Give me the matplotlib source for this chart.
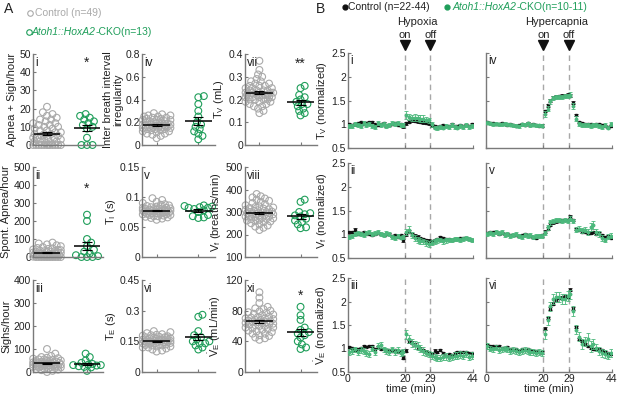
import numpy as np
import matplotlib
matplotlib.use('Agg')
import matplotlib.pyplot as plt
from matplotlib.lines import Line2D
import matplotlib.transforms as mtransforms

plt.rcParams['font.family'] = ['Liberation Sans', 'DejaVu Sans']
plt.rcParams['mathtext.fontset'] = 'custom'
plt.rcParams['mathtext.rm'] = 'Liberation Sans'
plt.rcParams['mathtext.it'] = 'Liberation Sans:italic'
plt.rcParams['mathtext.bf'] = 'Liberation Sans:bold'

# ---------------- data: panel A (individual animals) ----------------
i_ctl = [0,0,0,0,0,0,0,0,0,0,0,0,1,1,2,2,2,3,3,3,4,4,4,5,5,5,6,6,6,7,7,8,8,9,9,10,10,11,11,12,12,13,14,14,15,16,17,18,21]
i_cko = [0,0,0,4,9,10,11,12,13,14,15,16,17]
ii_ctl = [0,0,0,0,0,0,0,0,0,0,2,3,4,5,5,6,8,8,10,10,12,12,14,15,16,18,20,20,22,24,25,28,30,30,32,35,35,38,40,42,45,48,50,55,60,65,70,75,80]
ii_cko = [0,0,0,5,10,20,30,40,60,80,100,200,235]
iii_ctl = [0,5,8,10,12,15,15,18,20,20,22,22,25,25,25,28,28,30,30,30,32,32,33,35,35,35,38,38,40,40,40,42,42,45,45,48,48,50,50,52,55,55,58,60,62,65,70,80,100]
iii_cko = [5,20,22,25,28,30,30,32,35,40,50,65,80]
iv_ctl = [0.06,0.08,0.09,0.1,0.1,0.11,0.12,0.12,0.13,0.13,0.14,0.14,0.14,0.15,0.15,0.15,0.16,0.16,0.16,0.16,0.17,0.17,0.17,0.17,0.18,0.18,0.18,0.18,0.19,0.19,0.19,0.2,0.2,0.2,0.21,0.21,0.22,0.22,0.22,0.23,0.23,0.24,0.24,0.25,0.25,0.26,0.26,0.27,0.28]
iv_cko = [0.05,0.08,0.1,0.12,0.14,0.16,0.18,0.2,0.25,0.3,0.36,0.42,0.43]
v_ctl = [0.062,0.064,0.065,0.066,0.067,0.068,0.068,0.069,0.07,0.07,0.071,0.071,0.072,0.072,0.073,0.073,0.074,0.074,0.075,0.075,0.075,0.076,0.076,0.076,0.077,0.077,0.077,0.078,0.078,0.078,0.079,0.079,0.08,0.08,0.08,0.081,0.081,0.082,0.082,0.083,0.084,0.085,0.086,0.087,0.088,0.09,0.092,0.095,0.098]
v_cko = [0.065,0.066,0.068,0.07,0.075,0.078,0.08,0.082,0.082,0.083,0.084,0.085,0.086]
vi_ctl = [0.1,0.105,0.11,0.115,0.12,0.12,0.125,0.125,0.13,0.13,0.132,0.135,0.135,0.138,0.14,0.14,0.142,0.145,0.145,0.145,0.148,0.148,0.15,0.15,0.15,0.152,0.152,0.155,0.155,0.155,0.158,0.158,0.16,0.16,0.162,0.165,0.165,0.168,0.17,0.17,0.172,0.175,0.178,0.18,0.182,0.185,0.19,0.195,0.2]
vi_cko = [0.11,0.12,0.13,0.14,0.14,0.15,0.15,0.16,0.17,0.18,0.2,0.27,0.28]
vii_ctl = [0.14,0.15,0.16,0.17,0.17,0.18,0.18,0.19,0.19,0.19,0.2,0.2,0.2,0.2,0.21,0.21,0.21,0.21,0.21,0.22,0.22,0.22,0.22,0.22,0.22,0.23,0.23,0.23,0.23,0.23,0.24,0.24,0.24,0.24,0.25,0.25,0.25,0.26,0.26,0.26,0.27,0.27,0.28,0.28,0.29,0.3,0.31,0.33,0.37]
vii_cko = [0.13,0.14,0.15,0.16,0.17,0.18,0.18,0.19,0.2,0.21,0.22,0.25,0.26]
viii_ctl = [220,230,235,240,245,250,255,258,260,262,265,268,270,272,275,278,280,280,282,285,288,290,290,292,295,295,298,300,300,302,305,308,310,312,315,318,320,322,325,330,335,340,345,350,355,360,365,370,380]
viii_cko = [228,232,245,255,262,270,280,285,290,295,300,345,355]
xi_ctl = [42,44,45,47,48,50,50,52,53,54,55,56,57,58,58,60,60,61,62,62,63,64,64,65,65,66,66,67,68,68,69,70,70,71,72,72,74,75,76,77,78,79,80,82,83,85,90,97,104]
xi_cko = [30,32,36,40,45,48,50,52,55,58,68,74,85]

# ---------------- data: panel B (time courses, 1-min bins) ----------------
minutes = [0.5,1.5,2.5,3.5,4.5,5.5,6.5,7.5,8.5,9.5,10.5,11.5,12.5,13.5,14.5,15.5,16.5,17.5,18.5,19.5,
           20.5,21.5,22.5,23.5,24.5,25.5,26.5,27.5,28.5,
           29.5,30.5,31.5,32.5,33.5,34.5,35.5,36.5,37.5,38.5,39.5,40.5,41.5,42.5,43.5]

tv_hx_ctl = [1.0,0.98,1.0,1.02,1.05,1.0,1.02,1.05,1.04,1.0,0.98,1.0,1.02,0.97,0.98,1.0,1.02,0.98,1.0,0.96,
             1.02,1.05,1.08,1.07,1.06,1.05,1.04,1.03,1.02,
             0.98,0.96,0.95,0.97,0.98,0.96,0.97,1.0,0.97,0.96,0.98,0.97,0.99,0.96,1.0]
tv_hx_cko = [0.97,0.96,1.0,0.98,0.96,1.02,0.98,1.0,0.97,0.95,1.03,0.98,1.0,0.96,0.98,1.02,1.0,1.03,0.98,0.99,
             1.2,1.15,1.13,1.14,1.13,1.12,1.12,1.1,1.08,
             1.0,0.93,0.92,0.95,0.93,0.96,0.94,0.98,0.95,0.93,0.97,0.95,0.98,0.95,0.96]
tv_hc_ctl = [1.05,1.03,1.02,1.0,1.0,1.02,1.0,0.99,1.0,0.98,0.97,0.98,1.0,0.98,1.02,0.99,1.0,0.98,0.97,0.97,
             1.28,1.4,1.5,1.56,1.58,1.59,1.6,1.6,1.62,
             1.6,1.45,1.2,1.05,1.03,1.0,1.0,1.0,0.99,1.0,1.0,0.98,0.97,0.95,0.97]
tv_hc_cko = [1.03,1.02,1.0,1.01,1.0,1.0,1.01,1.0,0.99,0.98,0.97,0.96,1.0,0.99,1.02,0.98,0.99,0.98,0.98,0.97,
             1.22,1.33,1.48,1.55,1.58,1.58,1.58,1.6,1.6,
             1.62,1.38,1.12,1.0,0.98,0.98,0.98,0.97,0.99,0.98,0.97,0.95,0.98,0.93,1.0]
vf_hx_ctl = [1.05,1.05,1.1,1.0,1.02,1.05,1.0,1.0,0.98,1.0,1.02,1.0,0.98,1.0,1.0,0.97,0.98,0.95,0.98,0.87,
             1.0,1.05,1.0,0.97,0.95,0.92,0.9,0.88,0.86,
             0.85,0.88,0.9,0.94,0.92,0.9,0.9,0.88,0.9,0.9,0.92,0.93,0.92,0.9,0.88]
vf_hx_cko = [0.95,0.97,1.0,1.02,1.0,0.98,1.03,1.05,1.0,1.02,1.05,1.0,0.98,1.02,1.0,0.95,0.92,0.97,0.93,0.95,
             1.05,1.1,0.98,0.92,0.88,0.86,0.85,0.82,0.8,
             0.82,0.85,0.87,0.88,0.85,0.87,0.88,0.88,0.9,0.9,0.88,0.9,0.92,0.9,0.88]
vf_hc_ctl = [1.02,1.05,1.04,1.05,1.0,1.03,1.0,1.0,0.98,0.98,0.99,0.97,0.98,1.0,0.98,0.97,0.95,0.93,0.96,0.98,
             1.05,1.12,1.2,1.25,1.27,1.28,1.3,1.3,1.3,
             1.37,1.3,1.12,1.08,1.05,1.05,1.03,1.02,1.05,1.0,1.02,0.98,0.95,0.97,0.93]
vf_hc_cko = [1.0,1.02,1.0,1.05,1.02,1.05,0.98,1.0,0.97,0.98,1.0,0.97,0.95,0.98,0.96,0.98,0.95,0.97,0.96,0.97,
             1.02,1.15,1.25,1.28,1.3,1.3,1.28,1.3,1.28,
             1.33,1.28,1.1,1.12,1.08,1.1,1.05,1.15,1.2,1.05,1.0,0.92,0.88,0.95,0.97]
ve_hx_ctl = [1.03,1.02,0.97,1.0,1.02,1.05,1.03,1.05,1.05,1.0,1.03,0.98,0.98,0.95,0.97,0.95,0.97,0.93,0.95,0.8,
             0.95,1.15,1.12,1.08,1.03,1.0,0.97,0.93,0.9,
             0.88,0.95,0.92,0.97,0.9,0.85,0.88,0.87,0.9,0.92,0.93,0.92,0.92,0.9,0.9]
ve_hx_cko = [0.92,0.95,0.98,0.92,0.97,0.95,0.9,0.88,1.0,0.93,1.05,1.08,0.98,0.95,0.93,0.98,0.92,0.97,0.9,0.93,
             1.3,1.2,1.12,1.08,1.05,1.0,0.95,0.9,0.88,
             0.85,0.82,0.8,0.8,0.82,0.83,0.8,0.82,0.85,0.85,0.87,0.85,0.88,0.82,0.85]
ve_hc_ctl = [1.08,1.05,1.05,1.05,1.05,1.02,1.0,1.03,1.0,0.97,0.98,0.95,0.98,0.97,0.98,0.96,0.95,0.95,0.93,0.92,
             1.42,1.65,1.85,1.95,2.05,2.08,2.08,2.1,2.1,
             2.25,1.85,1.45,1.2,1.15,1.1,1.05,1.02,1.0,1.0,1.0,0.97,0.93,0.9,0.88]
ve_hc_cko = [1.05,1.0,0.98,1.02,0.97,0.98,1.0,0.98,0.95,0.97,0.95,0.93,0.95,0.97,0.95,0.93,0.92,0.9,0.93,0.9,
             1.3,1.6,1.9,2.05,2.1,2.1,2.05,2.05,2.12,
             2.15,1.8,1.4,1.25,1.1,1.15,1.2,1.05,1.1,1.02,0.95,0.9,0.88,0.85,0.9]

# SEM
sem_small = [0.02,0.02,0.03,0.02,0.02,0.02,0.02,0.02,0.02,0.02,0.02,0.02,0.02,0.02,0.02,0.02,0.02,0.02,0.02,0.03,
             0.03,0.03,0.03,0.03,0.03,0.03,0.03,0.03,0.03,
             0.03,0.03,0.02,0.02,0.02,0.02,0.02,0.02,0.02,0.02,0.02,0.02,0.02,0.02,0.02]
sem_cko_tv = [0.04,0.04,0.04,0.04,0.04,0.04,0.04,0.04,0.04,0.04,0.04,0.04,0.04,0.04,0.04,0.04,0.04,0.04,0.04,0.04,
              0.08,0.07,0.07,0.07,0.07,0.07,0.07,0.06,0.06,
              0.05,0.04,0.04,0.04,0.04,0.04,0.04,0.04,0.04,0.04,0.04,0.04,0.04,0.04,0.04]
sem_cko_tv_hc = [0.03,0.03,0.03,0.03,0.03,0.03,0.03,0.03,0.03,0.03,0.03,0.03,0.03,0.03,0.03,0.03,0.03,0.03,0.03,0.03,
                 0.06,0.06,0.05,0.04,0.04,0.04,0.04,0.04,0.04,
                 0.05,0.06,0.05,0.04,0.04,0.04,0.04,0.04,0.04,0.04,0.04,0.04,0.04,0.04,0.04]
sem_cko_vf = [0.04,0.04,0.04,0.04,0.04,0.04,0.04,0.04,0.04,0.04,0.04,0.04,0.04,0.04,0.04,0.04,0.04,0.04,0.04,0.04,
              0.06,0.07,0.06,0.06,0.06,0.06,0.06,0.06,0.06,
              0.05,0.05,0.05,0.05,0.05,0.05,0.05,0.05,0.05,0.04,0.04,0.04,0.04,0.04,0.04]
sem_cko_vf_hc = [0.04,0.04,0.04,0.04,0.04,0.04,0.04,0.04,0.04,0.04,0.04,0.04,0.04,0.04,0.04,0.04,0.04,0.04,0.04,0.04,
                 0.04,0.05,0.05,0.05,0.05,0.05,0.05,0.05,0.05,
                 0.05,0.05,0.06,0.06,0.06,0.06,0.06,0.08,0.08,0.06,0.06,0.06,0.05,0.05,0.05]
sem_cko_ve = [0.06,0.06,0.06,0.06,0.06,0.06,0.06,0.06,0.06,0.06,0.06,0.06,0.06,0.06,0.06,0.06,0.06,0.06,0.06,0.06,
              0.1,0.09,0.09,0.08,0.08,0.08,0.08,0.07,0.07,
              0.07,0.07,0.07,0.07,0.07,0.07,0.07,0.07,0.07,0.07,0.07,0.07,0.07,0.07,0.07]
sem_cko_ve_hc = [0.06,0.06,0.06,0.06,0.06,0.06,0.06,0.06,0.06,0.06,0.06,0.06,0.06,0.06,0.06,0.06,0.06,0.06,0.06,0.06,
                 0.1,0.1,0.1,0.1,0.1,0.1,0.1,0.1,0.1,
                 0.1,0.1,0.1,0.1,0.1,0.1,0.12,0.12,0.1,0.08,0.08,0.08,0.08,0.08,0.08]

# ---------------- styling ----------------
W, H = 617, 398
fig = plt.figure(figsize=(W / 100, H / 100), dpi=100)
GREEN = '#1f9e5a'
GREEN_LIGHT = '#4cb87c'
GRAY = '#a9a9a9'
SPINE = '#7a7a7a'
TXT = '#222222'
FS_TICK = 7.5
FS_LAB = 8


def add_ax(x0, x1, y0, y1):
    return fig.add_axes([x0 / W, 1 - y1 / H, (x1 - x0) / W, (y1 - y0) / H])


def style(ax):
    for s in ['top', 'right']:
        ax.spines[s].set_visible(False)
    for s in ['left', 'bottom']:
        ax.spines[s].set_color(SPINE)
        ax.spines[s].set_linewidth(1.0)
    ax.tick_params(direction='in', length=2.5, width=0.8, color=SPINE,
                   labelsize=FS_TICK, labelcolor=TXT, pad=1.5)
    ax.patch.set_alpha(0)


def swarm(vals, ylim, hpx, d, maxw):
    vals = np.asarray(vals, float)
    ypx = (vals - ylim[0]) / (ylim[1] - ylim[0]) * hpx
    order = np.argsort(vals, kind='stable')
    cands = [0.0]
    k = 1
    step = d * 0.3
    while k * step <= maxw:
        cands += [k * step, -k * step]
        k += 1
    placed = []
    xs = np.zeros(len(vals))
    for i in order:
        best, bestd = 0.0, -1
        for c in cands:
            md = min([np.hypot(c - px, ypx[i] - py) for px, py in placed], default=1e9)
            if md >= d:
                best = c
                break
            if md > bestd:
                bestd, best = md, c
        xs[i] = best
        placed.append((best, ypx[i]))
    return xs


COLX = [(33, 103), (142, 215), (245, 317)]
ROWY = [(54, 145), (167, 257), (280, 372)]
XLIM = (0.65, 2.4)
POS = [1, 2]

panels_A = [
    (0, 0, i_ctl, i_cko, 'Apnea + Sigh/hour', (0, 50), [0, 10, 20, 30, 40, 50], ['0', '10', '20', '30', '40', '50'], 'i', '*', 45),
    (1, 0, iv_ctl, iv_cko, 'Inter breath interval\nirregularity', (0, 0.8), [0, 0.2, 0.4, 0.6, 0.8], ['0', '0.2', '0.4', '0.6', '0.8'], 'iv', '', 0),
    (2, 0, vii_ctl, vii_cko, r'$\mathrm{T_V}$ (mL)', (0, 0.4), [0, 0.1, 0.2, 0.3, 0.4], ['0', '0.1', '0.2', '0.3', '0.4'], 'vii', '**', 0.355),
    (0, 1, ii_ctl, ii_cko, 'Spont. Apnea/hour', (0, 500), [0, 100, 200, 300, 400, 500], ['0', '100', '200', '300', '400', '500'], 'ii', '*', 380),
    (1, 1, v_ctl, v_cko, r'$\mathrm{T_I}$ (s)', (0, 0.15), [0, 0.05, 0.1, 0.15], ['0', '0.05', '0.1', '0.15'], 'v', '', 0),
    (2, 1, viii_ctl, viii_cko, r'$\mathrm{V_f}$ (breaths/min)', (100, 500), [100, 200, 300, 400, 500], ['100', '200', '300', '400', '500'], 'viii', '', 0),
    (0, 2, iii_ctl, iii_cko, 'Sighs/hour', (0, 400), [0, 100, 200, 300, 400], ['0', '100', '200', '300', '400'], 'iii', '', 0),
    (1, 2, vi_ctl, vi_cko, r'$\mathrm{T_E}$ (s)', (0, 0.45), [0, 0.15, 0.3, 0.45], ['0', '0.15', '0.3', '0.45'], 'vi', '', 0),
    (2, 2, xi_ctl, xi_cko, r'$\mathrm{\dot{V}_E}$ (mL/min)', (0, 120), [0, 40, 80, 120], ['0', '40', '80', '120'], 'xi', '*', 100),
]

for col, row, ctl, cko, ylab, ylim, yt, ytl, roman, star, stary in panels_A:
    x0, x1 = COLX[col]
    y0, y1 = ROWY[row]
    ax = add_ax(x0, x1, y0, y1)
    style(ax)
    pxu = (x1 - x0) / (XLIM[1] - XLIM[0])
    hpx = y1 - y0
    for g, (vals, col_) in enumerate([(ctl, GRAY), (cko, GREEN)]):
        offs = swarm(vals, ylim, hpx, 4.6, 15) / pxu
        ax.scatter(POS[g] + offs, vals, s=24, facecolors='none', edgecolors=col_,
                   linewidths=0.8, clip_on=False, zorder=2)
        m = np.mean(vals)
        se = np.std(vals, ddof=1) / np.sqrt(len(vals))
        ax.hlines(m, POS[g] - 0.32, POS[g] + 0.32, color='k', lw=1.1, zorder=3)
        ax.errorbar(POS[g], m, yerr=se, fmt='none', ecolor='k', elinewidth=0.8,
                    capsize=3.5, capthick=0.8, zorder=3)
    ax.set_xlim(*XLIM)
    ax.set_ylim(*ylim)
    ax.set_yticks(yt)
    ax.set_yticklabels(ytl)
    ax.set_xticks(POS)
    ax.set_xticklabels([])
    ax.set_ylabel(ylab, fontsize=FS_LAB, color=TXT, labelpad=1.5, linespacing=1.1)
    ax.text(0.03, 0.97, roman, transform=ax.transAxes, ha='left', va='top', fontsize=8.5, color=TXT)
    if star:
        ax.text(POS[1], stary, star, ha='center', va='center', fontsize=10, color=TXT)

# ---------------- panel B ----------------
BCOLX = [(348, 473), (486, 612)]
BROWY = [(53, 148), (163, 258), (278, 372)]
panels_B = [
    (0, 0, tv_hx_ctl, sem_small, tv_hx_cko, sem_cko_tv, r'$\mathrm{T_V}$ (normalized)', 'i'),
    (1, 0, tv_hc_ctl, sem_small, tv_hc_cko, sem_cko_tv_hc, None, 'iv'),
    (0, 1, vf_hx_ctl, sem_small, vf_hx_cko, sem_cko_vf, r'$\mathrm{V_f}$ (normalized)', 'ii'),
    (1, 1, vf_hc_ctl, sem_small, vf_hc_cko, sem_cko_vf_hc, None, 'v'),
    (0, 2, ve_hx_ctl, sem_small, ve_hx_cko, sem_cko_ve, r'$\mathrm{\dot{V}_E}$ (normalized)', 'iii'),
    (1, 2, ve_hc_ctl, sem_small, ve_hc_cko, sem_cko_ve_hc, None, 'vi'),
]
axB = {}
for col, row, c, cs, k, ks, ylab, roman in panels_B:
    x0, x1 = BCOLX[col]
    y0, y1 = BROWY[row]
    ax = add_ax(x0, x1, y0, y1)
    style(ax)
    axB[(col, row)] = ax
    for xv in (20, 29):
        ax.axvline(xv, color='#a8a8a8', lw=1.0, ls=(0, (4, 3)), zorder=1)
    ax.errorbar(minutes, c, yerr=cs, fmt='s', ms=1.9, color='#111111', mec='#111111',
                elinewidth=0.6, capsize=1.1, capthick=0.6, zorder=3)
    ax.errorbar(minutes, k, yerr=ks, fmt='o', ms=1.8, color=GREEN_LIGHT, mec=GREEN_LIGHT,
                elinewidth=0.6, capsize=1.1, capthick=0.6, zorder=4)
    ax.set_xlim(0, 44)
    ax.set_ylim(0.5, 2.5)
    ax.set_yticks([0.5, 1, 1.5, 2, 2.5])
    ax.set_xticks([0, 20, 29, 44])
    if col == 0:
        ax.set_yticklabels(['0.5', '1', '1.5', '2', '2.5'])
        ax.set_ylabel(ylab, fontsize=FS_LAB, color=TXT, labelpad=1.5)
    else:
        ax.set_yticklabels([])
    if row == 2:
        ax.set_xticklabels(['0', '20', '29', '44'])
        ax.set_xlabel('time (min)', fontsize=FS_LAB, color=TXT, labelpad=0)
    else:
        ax.set_xticklabels([])
    ax.text(0.02, 0.98, roman, transform=ax.transAxes, ha='left', va='top', fontsize=8.5, color=TXT)

# stimulus annotations
for col, title in [(0, 'Hypoxia'), (1, 'Hypercapnia')]:
    ax = axB[(col, 0)]
    tr = mtransforms.blended_transform_factory(ax.transData, fig.transFigure)
    fig.text(24.5, 1 - 22 / H, title, transform=tr, ha='center', va='center', fontsize=8, color=TXT)
    fig.text(20, 1 - 35 / H, 'on', transform=tr, ha='center', va='center', fontsize=8, color=TXT)
    fig.text(29, 1 - 35 / H, 'off', transform=tr, ha='center', va='center', fontsize=8, color=TXT)
    fig.add_artist(Line2D([20, 29], [1 - 45 / H, 1 - 45 / H], transform=tr, ls='none',
                          marker='v', ms=7, color='#111111'))

# legends / panel letters
fig.text(4 / W, 1 - 9 / H, 'A', fontsize=10, ha='left', va='center', color=TXT)
fig.text(316 / W, 1 - 9 / H, 'B', fontsize=10, ha='left', va='center', color=TXT)

renderer = fig.canvas.get_renderer()


def mixed(x, y, parts, color):
    for txt, style_ in parts:
        t = fig.text(x / W, 1 - y / H, txt, fontsize=7.5, ha='left', va='center',
                     color=color, style=style_)
        bb = t.get_window_extent(renderer=renderer)
        x += bb.width


fig.add_artist(Line2D([30 / W], [1 - 13 / H], marker='o', ms=4, mfc='none', mec=GRAY, mew=0.8,
                      transform=fig.transFigure))
mixed(35, 13, [('Control (n=49)', 'normal')], GRAY)
fig.add_artist(Line2D([29 / W], [1 - 32 / H], marker='o', ms=4, mfc='none', mec=GREEN, mew=0.8,
                      transform=fig.transFigure))
mixed(32, 32, [('Atoh1::HoxA2', 'italic'), ('-CKO(n=13)', 'normal')], GREEN)

fig.add_artist(Line2D([345 / W], [1 - 7 / H], marker='o', ms=3.5, color='#111111',
                      transform=fig.transFigure))
mixed(348, 7, [('Control (n=22-44)', 'normal')], TXT)
fig.add_artist(Line2D([447 / W], [1 - 7 / H], marker='o', ms=3.5, color=GREEN,
                      transform=fig.transFigure))
mixed(453, 7, [('Atoh1::HoxA2', 'italic'), ('-CKO(n=10-11)', 'normal')], GREEN)

fig.savefig('out.png', dpi=100)
